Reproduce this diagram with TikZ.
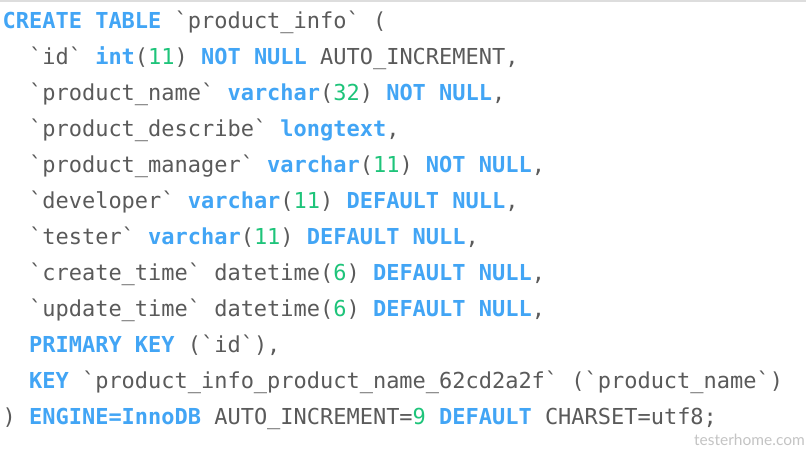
\documentclass[tikz,border=0pt]{standalone}
\usepackage{fontspec}
\setmonofont{DejaVu Sans Mono}
\newfontfamily\wmfont{Lato}
\definecolor{kwblue}{HTML}{42A5F5}
\definecolor{numgreen}{HTML}{1EC47A}
\definecolor{txtgray}{HTML}{5A5A5A}
\definecolor{topgray}{HTML}{DDDDDD}
\definecolor{wmgray}{HTML}{C4C4C4}
\newcommand{\kw}[1]{{\bfseries\color{kwblue}#1}}
\newcommand{\nm}[1]{{\color{numgreen}#1}}
\tikzset{
  codeline/.style={anchor=base west, inner sep=0pt, text=txtgray,
    font=\ttfamily\fontsize{21.97}{26}\selectfont\frenchspacing},
  watermark/.style={anchor=base west, inner sep=0pt, text=wmgray,
    font=\wmfont\fontsize{15.5}{18}\selectfont}
}
\begin{document}
\begin{tikzpicture}[x=1pt,y=-1pt]
\useasboundingbox (0,0) rectangle (806,458);
\fill[white] (0,0) rectangle (806,458);
\fill[topgray] (0,0) rectangle (806,2);
\node[codeline] (l1) at (2.5,28) {\kw{CREATE TABLE} `product\_info` (};
\node[codeline] (l2) at (28.95,64) {`id` \kw{int}(\nm{11}) \kw{NOT NULL} AUTO\_INCREMENT,};
\node[codeline] (l3) at (28.95,100) {`product\_name` \kw{varchar}(\nm{32}) \kw{NOT NULL},};
\node[codeline] (l4) at (28.95,136) {`product\_describe` \kw{longtext},};
\node[codeline] (l5) at (28.95,172) {`product\_manager` \kw{varchar}(\nm{11}) \kw{NOT NULL},};
\node[codeline] (l6) at (28.95,208) {`developer` \kw{varchar}(\nm{11}) \kw{DEFAULT NULL},};
\node[codeline] (l7) at (28.95,244) {`tester` \kw{varchar}(\nm{11}) \kw{DEFAULT NULL},};
\node[codeline] (l8) at (28.95,280) {`create\_time` datetime(\nm{6}) \kw{DEFAULT NULL},};
\node[codeline] (l9) at (28.95,316) {`update\_time` datetime(\nm{6}) \kw{DEFAULT NULL},};
\node[codeline] (l10) at (28.95,352) {\kw{PRIMARY KEY} (`id`),};
\node[codeline] (l11) at (28.95,388) {\kw{KEY} `product\_info\_product\_name\_62cd2a2f` (`product\_name`)};
\node[codeline] (l12) at (2.5,424) {) \kw{ENGINE=InnoDB} AUTO\_INCREMENT=\nm{9} \kw{DEFAULT} CHARSET=utf8;};
\node[watermark] (wm) at (694,445) {testerhome.com};
\end{tikzpicture}
\end{document}
